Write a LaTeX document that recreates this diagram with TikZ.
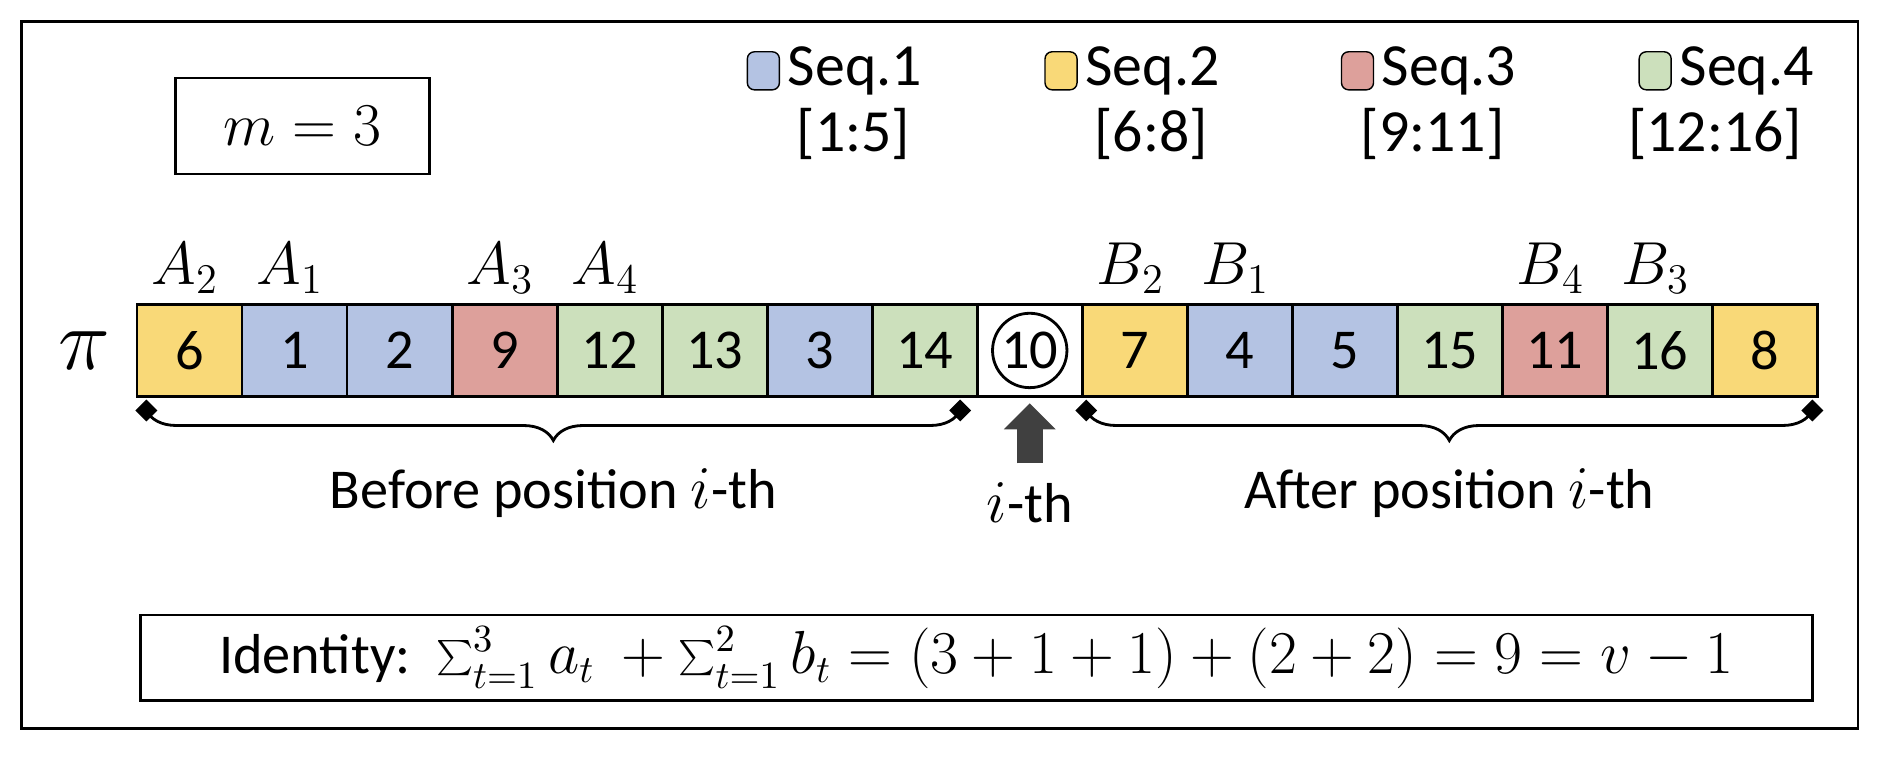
\documentclass[tikz,border=0pt]{standalone}
\usepackage{fontspec}
\setmainfont{Carlito}
\usetikzlibrary{positioning,shapes.geometric,decorations.pathreplacing,arrows.meta}
\definecolor{seqA}{HTML}{B4C3E3}
\definecolor{seqB}{HTML}{F9D978}
\definecolor{seqC}{HTML}{DDA09B}
\definecolor{seqD}{HTML}{CCE0BC}
\begin{document}
\begin{tikzpicture}[x=0.012cm,y=-0.012cm,font=\fontsize{16}{19}\selectfont]
    \tikzset{
      cell/.style = {draw, line width=0.8pt, minimum width=87.5*0.012cm, minimum height=77*0.012cm, inner sep=0pt},
      key/.style = {draw, rounded corners=2pt, minimum width=0.32cm, minimum height=0.38cm, inner sep=0pt},
      tip/.style = {diamond, fill, inner sep=1.6pt},
      span/.style = {decorate, decoration={brace, mirror, amplitude=0.3cm}, thick},
    }
    \useasboundingbox (0,0) rectangle (1568,636);
    \draw[thick] (18,18) rectangle (1548,607);

    \node[draw, thick, minimum width=211*0.012cm, minimum height=80*0.012cm] (mbox) at (252,105)
        {\fontsize{19}{22}\selectfont $m=3$};

    % legend
    \foreach \c/\t/\r/\x in {seqA/1/{[1:5]}/636, seqB/2/{[6:8]}/884, seqC/3/{[9:11]}/1131, seqD/4/{[12:16]}/1379} {
        \node[key, fill=\c] (key-\t) at (\x,59) {};
        \node[right=0pt of key-\t, inner sep=2pt, font=\fontsize{17}{20}\selectfont] (seq-\t) {Seq.\t};
        \node[below=-2pt of seq-\t.south east, anchor=north east, xshift=-2pt, font=\fontsize{17}{20}\selectfont] (range-\t) {\r};
    }

    \node (pi) at (70,292) {\fontsize{26}{30}\selectfont $\pi$};

    \foreach \n/\c [count = \i] in {6/seqB,1/seqA,2/seqA,9/seqC,12/seqD,13/seqD,3/seqA,14/seqD,
        10/white,7/seqB,4/seqA,5/seqA,15/seqD,11/seqC,16/seqD,8/seqB}
        \node[cell, fill=\c, anchor=west] (c-\i) at (113+87.5*\i-87.5,292) {\ifnum\i=9\else\n\fi};
    \node[draw, circle, thick, minimum size=62*0.012cm, inner sep=0pt] (now) at (c-9) {10};

    \foreach \l/\i in {A_2/1,A_1/2,A_3/4,A_4/5,B_2/10,B_1/11,B_4/14,B_3/15}
        \node[above=-1pt of c-\i.north west, anchor=south west, xshift=1pt] {\fontsize{17}{20}\selectfont $\l$};

    % braces
    \coordinate (bl1) at (122,342);
    \coordinate (bl2) at (800,342);
    \coordinate (br1) at (905,342);
    \coordinate (br2) at (1510,342);
    \foreach \p in {bl1,bl2,br1,br2}
        \node[tip] at (\p) {};
    \draw[span] (bl1) -- (bl2) node[midway, below=0.45cm] (before) {Before position $i$-th};
    \draw[span] (br1) -- (br2) node[midway, below=0.45cm] (after) {After position $i$-th};

    \coordinate (foot) at (now.south |- 0,386);
    \draw[-{Triangle[length=0.26cm,width=0.5cm]}, line width=0.26cm, black!75] (foot) -- (now.south |- 0,336);
    \node[below=2pt of foot] (ith) {$i$-th};

    \node[draw, thick, minimum width=1393*0.012cm, minimum height=61*0.012cm] (identity) at (813.5,548)
        {Identity:\ \ $\sum_{t=1}^{3} a_t\ +\sum_{t=1}^{2} b_t=(3+1+1)+(2+2)=9=v-1$};
\end{tikzpicture}
\end{document}
